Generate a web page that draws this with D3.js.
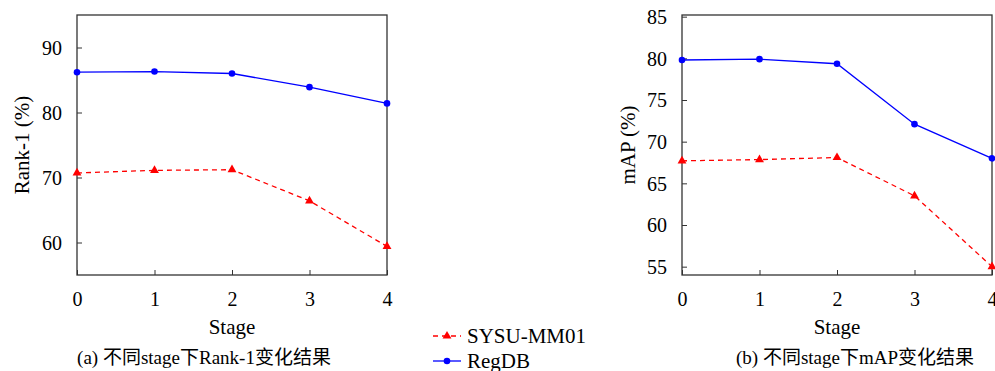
<!DOCTYPE html>
<html>
<head>
<meta charset="utf-8">
<script src="https://cdn.jsdelivr.net/npm/d3@7"></script>
<style>
  body { margin: 0; background: #fff; }
  svg { font-family: "Liberation Serif", "Noto Sans CJK SC", serif; }
</style>
</head>
<body>
<svg width="995" height="371"></svg>
<script>
const stages = [0, 1, 2, 3, 4];
const rank1Sysu = [70.7, 71.1, 71.2, 66.4, 59.4];
const rank1Regdb = [86.2, 86.3, 86.0, 83.9, 81.4];
const mapSysu = [67.7, 67.85, 68.1, 63.5, 55.0];
const mapRegdb = [79.8, 79.9, 79.35, 72.1, 68.0];
const rank1Ticks = [60, 70, 80, 90];
const mapTicks = [55, 60, 65, 70, 75, 80, 85];

const svg = d3.select("svg");
const fs = 20;
const axisColor = "#333";

const panels = [
  { x0: 77, x1: 387, yDomain: [55, 95], ticks: rank1Ticks, ylab: "Rank-1 (%)", ylabX: 22,
    sysu: rank1Sysu, regdb: rank1Regdb, caption: "(a) 不同stage下Rank-1变化结果", capX: 204 },
  { x0: 682, x1: 992, yDomain: [54, 85.2], ticks: mapTicks, ylab: "mAP (%)", ylabX: 628,
    sysu: mapSysu, regdb: mapRegdb, caption: "(b) 不同stage下mAP变化结果", capX: 855 }
];

const triangle = d3.symbol().type(d3.symbolTriangle).size(34);

panels.forEach(p => {
  const x = d3.scaleLinear().domain([0, 4]).range([p.x0, p.x1]);
  const y = d3.scaleLinear().domain(p.yDomain).range([275, 15]);
  const g = svg.append("g");

  // x axis, ticks pointing inward
  const xa = g.append("g").attr("transform", "translate(0,275)")
    .call(d3.axisBottom(x).tickValues(stages).tickSize(-5).tickSizeOuter(0).tickFormat(d3.format("d")));
  xa.select(".domain").remove();
  xa.selectAll("line").attr("stroke", axisColor);
  xa.selectAll("text").attr("y", 31).attr("dy", null).attr("font-size", fs).attr("fill", "#000")
    .attr("font-family", "Liberation Serif");

  const ya = g.append("g").attr("transform", `translate(${p.x0},0)`)
    .call(d3.axisLeft(y).tickValues(p.ticks).tickSize(-5).tickSizeOuter(0));
  ya.select(".domain").remove();
  ya.selectAll("line").attr("stroke", axisColor);
  ya.selectAll("text").attr("x", -15).attr("dy", "0.34em").attr("font-size", fs).attr("fill", "#000")
    .attr("font-family", "Liberation Serif");

  g.append("rect")
    .attr("x", p.x0).attr("y", 15).attr("width", p.x1 - p.x0).attr("height", 260)
    .attr("fill", "none").attr("stroke", axisColor).attr("stroke-width", 1.3);

  const line = d3.line().x((d, i) => x(stages[i])).y(d => y(d));

  g.append("path").datum(p.sysu).attr("d", line)
    .attr("fill", "none").attr("stroke", "#ff0000").attr("stroke-width", 1.3).attr("stroke-dasharray", "5,4");
  g.append("path").datum(p.regdb).attr("d", line)
    .attr("fill", "none").attr("stroke", "#0000ff").attr("stroke-width", 1.3);

  g.selectAll(".tri").data(p.sysu).join("path")
    .attr("d", triangle).attr("fill", "#ff0000")
    .attr("transform", (d, i) => `translate(${x(stages[i])},${y(d)})`);
  g.selectAll(".dot").data(p.regdb).join("circle")
    .attr("cx", (d, i) => x(stages[i])).attr("cy", d => y(d)).attr("r", 3.3).attr("fill", "#0000ff");

  g.append("text").attr("x", (p.x0 + p.x1) / 2).attr("y", 334)
    .attr("text-anchor", "middle").attr("font-size", 21).text("Stage");

  g.append("text")
    .attr("transform", `translate(${p.ylabX},145) rotate(-90)`)
    .attr("text-anchor", "middle").attr("dy", "0.34em").attr("font-size", 21).text(p.ylab);

  g.append("text").attr("x", p.capX).attr("y", 364)
    .attr("text-anchor", "middle").attr("font-size", 19).text(p.caption);
});

// legend
const legend = [
  { name: "SYSU-MM01", color: "#ff0000", dash: "5,4", marker: "tri", y: 336 },
  { name: "RegDB", color: "#0000ff", dash: null, marker: "dot", y: 361 }
];
const lg = svg.append("g");
legend.forEach(l => {
  lg.append("line").attr("x1", 433).attr("x2", 461).attr("y1", l.y).attr("y2", l.y)
    .attr("stroke", l.color).attr("stroke-width", 1.3).attr("stroke-dasharray", l.dash);
  if (l.marker === "tri") {
    lg.append("path").attr("d", triangle).attr("fill", l.color)
      .attr("transform", `translate(447,${l.y})`);
  } else {
    lg.append("circle").attr("cx", 447).attr("cy", l.y).attr("r", 3.3).attr("fill", l.color);
  }
  lg.append("text").attr("x", 467).attr("y", l.y).attr("dy", "0.32em")
    .attr("font-size", 21).text(l.name);
});
</script>
</body>
</html>
